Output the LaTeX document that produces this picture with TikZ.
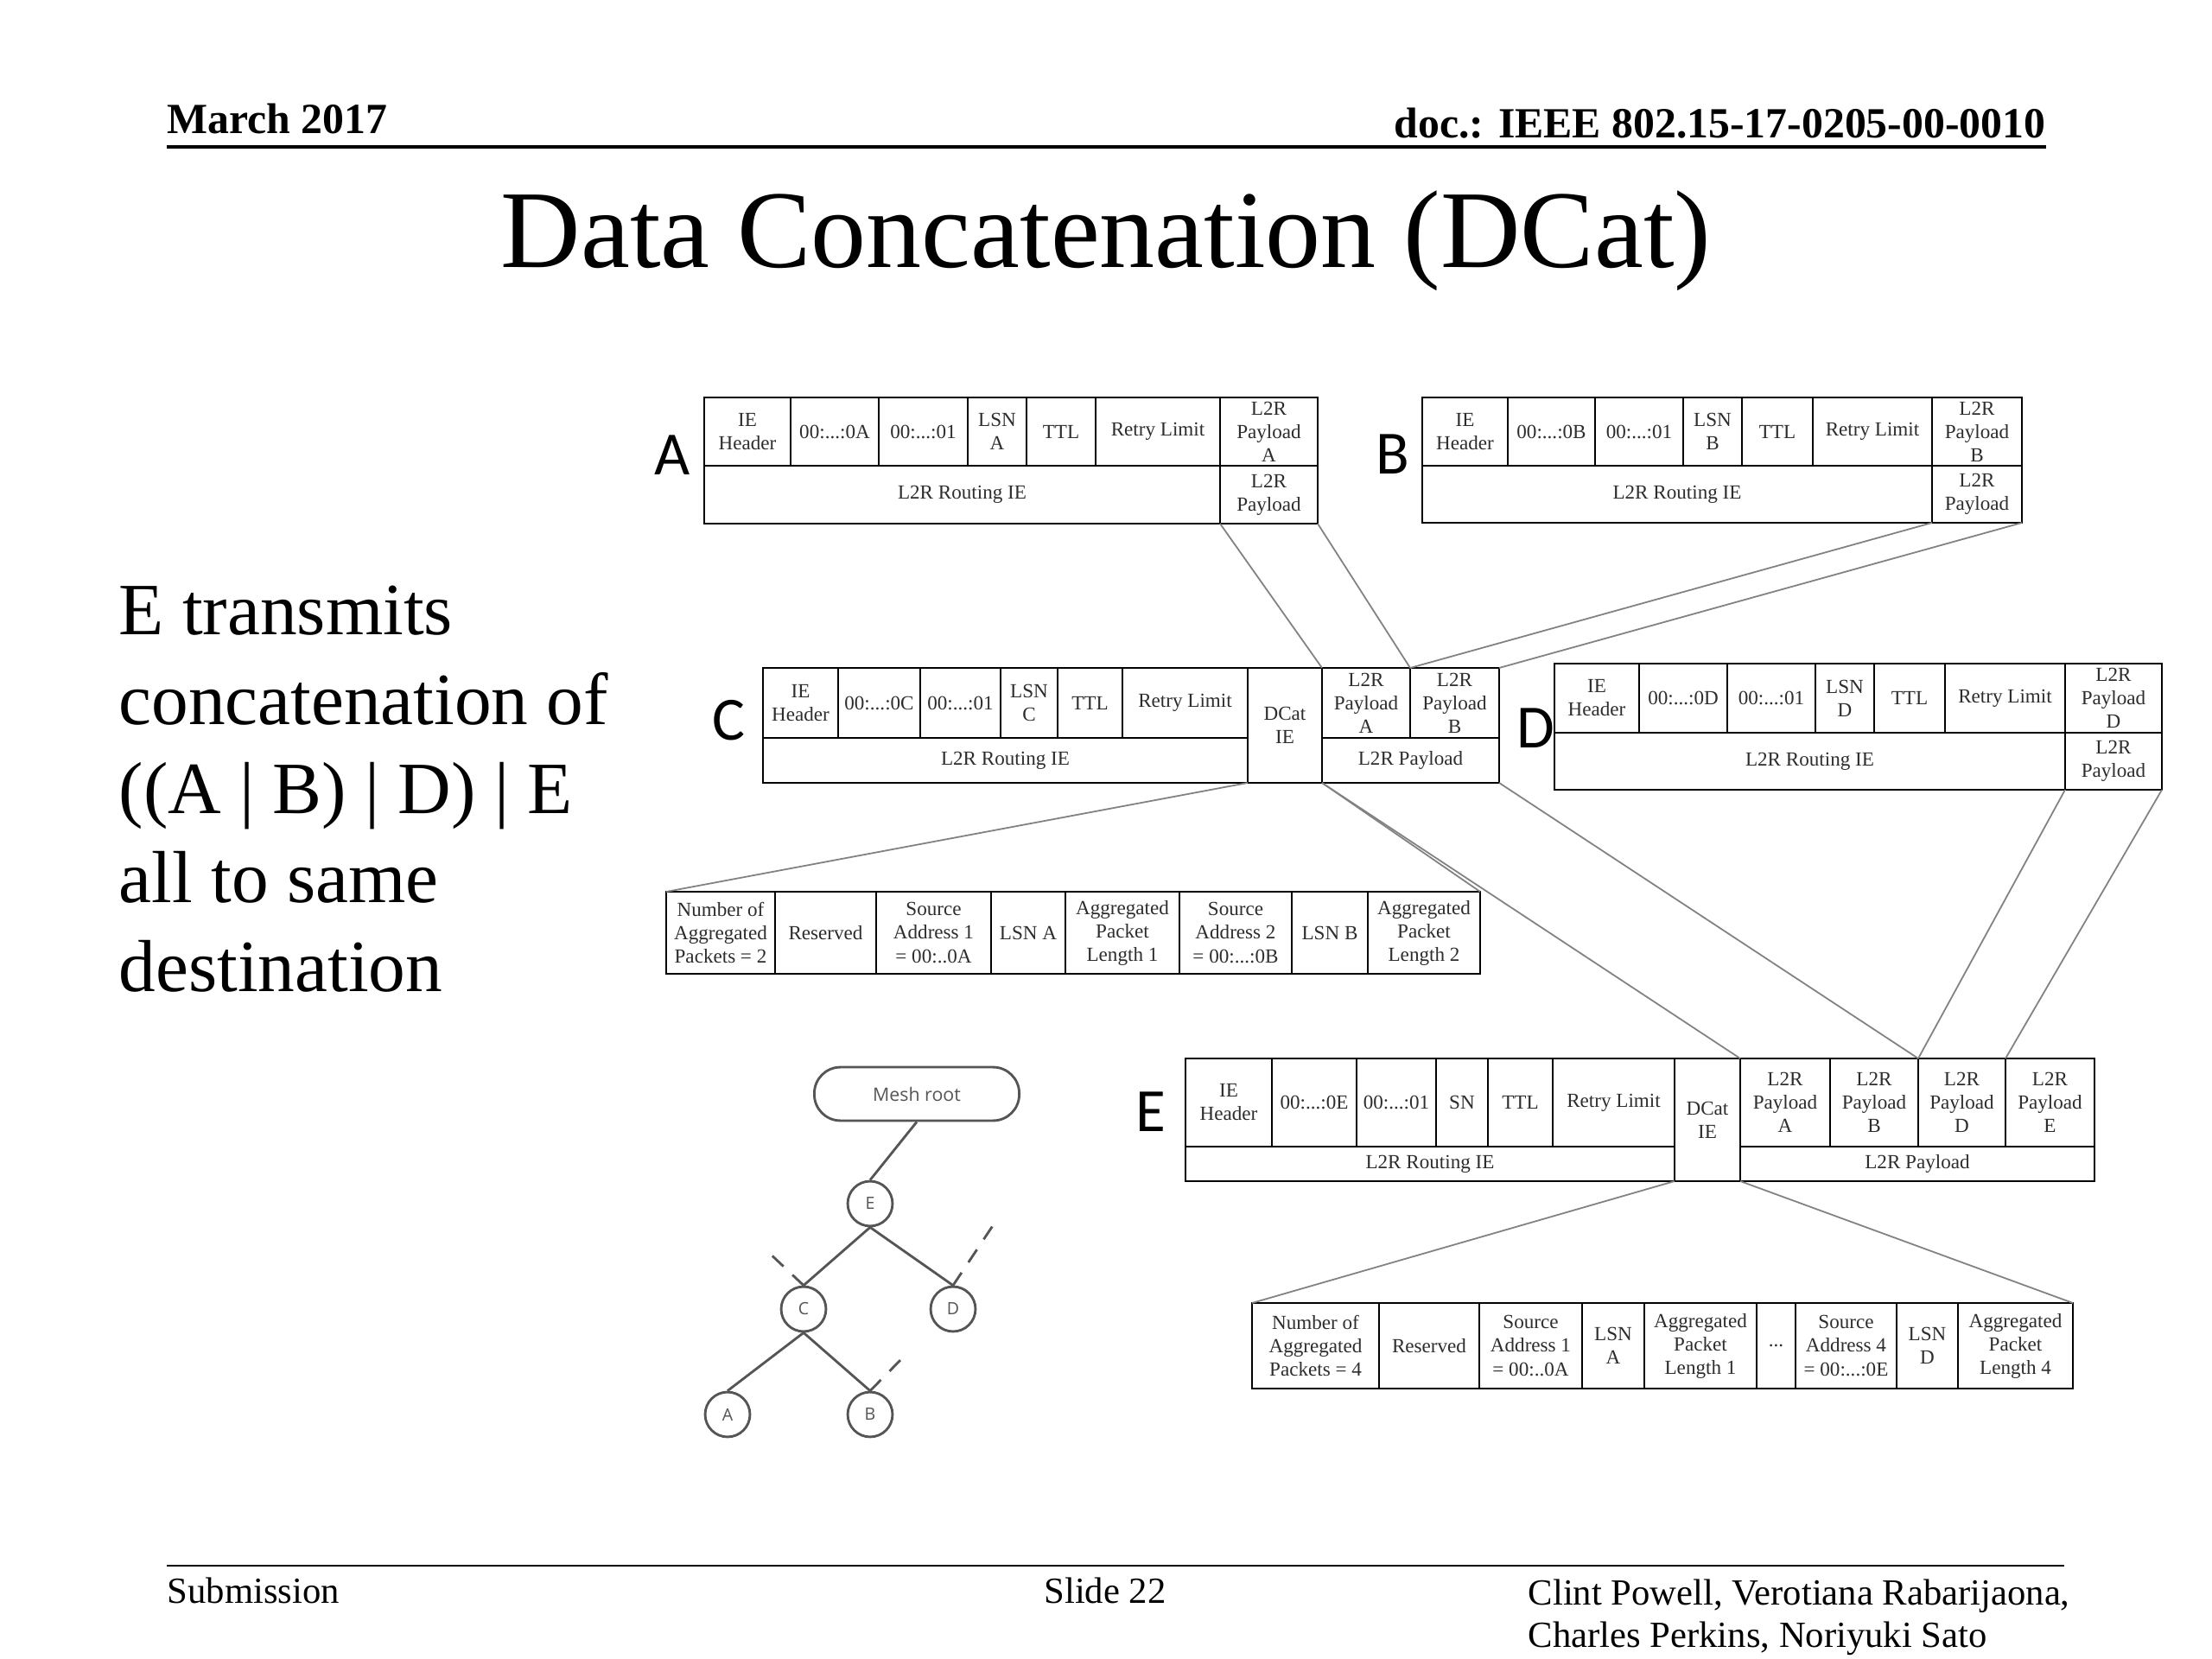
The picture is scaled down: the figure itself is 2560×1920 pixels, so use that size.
\documentclass[tikz,border=0pt]{standalone}
\usepackage{fontspec}
\setmainfont{Liberation Serif}
\newfontfamily\lblfont{Carlito}
\newfontfamily\treefont{Open Sans}
\definecolor{conn}{RGB}{130,130,130}
\definecolor{boxtext}{RGB}{45,45,45}
\definecolor{treeline}{RGB}{85,85,85}
\tikzset{
  fcellstyle/.style={draw=black, line width=0.75pt, fill=white, inner sep=0pt, outer sep=0pt,
    align=center, text=boxtext, font=\fontsize{6.5}{7.6}\selectfont},
  conline/.style={draw=conn, line width=0.5pt},
  bigletter/.style={font=\lblfont\fontsize{20}{24}\selectfont, inner sep=0pt},
  treenode/.style={circle, draw=treeline, line width=0.8pt, minimum size=14.6pt, inner sep=0pt,
    font=\treefont\fontsize{5.5}{6}\selectfont, text=treeline},
  rootnode/.style={rectangle, rounded corners=8.5pt, draw=treeline, line width=0.8pt,
    minimum width=66.7pt, minimum height=17.4pt, inner sep=0pt,
    font=\treefont\fontsize{6}{7}\selectfont, text=treeline},
  treeedge/.style={draw=treeline, line width=0.8pt},
  treedash/.style={treeedge, dash pattern=on 5pt off 4pt},
  hdr/.style={font=\bfseries\fontsize{14}{16}\selectfont, inner sep=0pt},
  ftr/.style={font=\fontsize{12}{14}\selectfont, inner sep=0pt},
  bodytxt/.style={font=\fontsize{24}{29}\selectfont, inner sep=0pt, anchor=base west},
}
% name, x1, y1, x2, y2, text   (pixel coordinates of the reference)
\newcommand\fcell[6]{%
  \pgfmathsetmacro\fcW{(#4-#2)*0.28125}%
  \pgfmathsetmacro\fcH{(#5-#3)*0.28125}%
  \node[fcellstyle, minimum width=\fcW pt, minimum height=\fcH pt] (#1) at ({(#2+#4)/2},{(#3+#5)/2}) {#6};}

\begin{document}
\begin{tikzpicture}[x=0.28125pt, y=-0.28125pt]
\fill[white] (0,0) rectangle (2560,1920);
\useasboundingbox (0,0) rectangle (2560,1920);

% header
\node[hdr, anchor=base west] (hdate) at (193,155) {March 2017};
\node[hdr, anchor=base east] (hdoc) at (2368,160) {doc.: IEEE 802.15-17-0205-00-0010};
\coordinate (hl1) at (193,170);
\coordinate (hl2) at (2368,170);
\draw[line width=1.1pt] (hl1) -- (hl2);

% title
\node[font=\fontsize{36}{40}\selectfont, inner sep=0pt, anchor=base] (title) at (1280,310) {Data Concatenation (DCat)};

% left text
\node[bodytxt] (l1) at (137,735) {E transmits};
\node[bodytxt] (l2) at (137,838) {concatenation of};
\node[bodytxt] (l3) at (137,941) {((A | B) | D) | E};
\node[bodytxt] (l4) at (137,1044) {all to same};
\node[bodytxt] (l5) at (137,1147) {destination};

% footer
\coordinate (fl1) at (193,1812);
\coordinate (fl2) at (2389,1812);
\draw[line width=0.8pt] (fl1) -- (fl2);
\node[ftr, anchor=base west] (fsub) at (193,1855) {Submission};
\node[ftr, anchor=base] (fslide) at (1279,1855) {Slide 22};
\node[ftr, anchor=base west] (fauth1) at (1768,1857) {Clint Powell, Verotiana Rabarijaona,};
\node[ftr, anchor=base west] (fauth2) at (1768,1906) {Charles Perkins, Noriyuki Sato};

% ---------- box A ----------
\node[bigletter] (labA) at (778,527) {A};
\fcell{a1}{815}{460}{915}{539}{IE\\Header}
\fcell{a2}{915}{460}{1017}{539}{00:...:0A}
\fcell{a3}{1017}{460}{1120}{539}{00:...:01}
\fcell{a4}{1120}{460}{1188}{539}{LSN\\A}
\fcell{a5}{1188}{460}{1268}{539}{TTL}
\fcell{a6}{1268}{460}{1412}{539}{Retry Limit}
\fcell{a7}{1412}{460}{1525}{539}{L2R\\Payload\\A}
\fcell{ar}{815}{539}{1412}{606}{L2R Routing IE}
\fcell{ap}{1412}{539}{1525}{606}{L2R\\Payload}

% ---------- box B ----------
\node[bigletter] (labB) at (1612,526) {B};
\fcell{b1}{1646}{460}{1745}{539}{IE\\Header}
\fcell{b2}{1745}{460}{1846}{539}{00:...:0B}
\fcell{b3}{1846}{460}{1948}{539}{00:...:01}
\fcell{b4}{1948}{460}{2016}{539}{LSN\\B}
\fcell{b5}{2016}{460}{2098}{539}{TTL}
\fcell{b6}{2098}{460}{2236}{539}{Retry Limit}
\fcell{b7}{2236}{460}{2340}{539}{L2R\\Payload\\B}
\fcell{br}{1646}{539}{2236}{605}{L2R Routing IE}
\fcell{bp}{2236}{539}{2340}{605}{L2R\\Payload}

% ---------- box C ----------
\node[bigletter] (labC) at (843,834) {C};
\fcell{c1}{883}{773}{970}{854}{IE\\Header}
\fcell{c2}{970}{773}{1065}{854}{00:...:0C}
\fcell{c3}{1065}{773}{1158}{854}{00:...:01}
\fcell{c4}{1158}{773}{1224}{854}{LSN\\C}
\fcell{c5}{1224}{773}{1299}{854}{TTL}
\fcell{c6}{1299}{773}{1444}{854}{Retry Limit}
\fcell{cd}{1444}{773}{1530}{906}{DCat\\IE}
\fcell{c7}{1530}{773}{1632}{854}{L2R\\Payload\\A}
\fcell{c8}{1632}{773}{1735}{854}{L2R\\Payload\\B}
\fcell{cr}{883}{854}{1444}{906}{L2R Routing IE}
\fcell{cp}{1530}{854}{1735}{906}{L2R Payload}

% ---------- box D ----------
\node[bigletter] (labD) at (1777,843) {D};
\fcell{d1}{1799}{768}{1897}{848}{IE\\Header}
\fcell{d2}{1897}{768}{1999}{848}{00:...:0D}
\fcell{d3}{1999}{768}{2101}{848}{00:...:01}
\fcell{d4}{2101}{768}{2169}{848}{LSN\\D}
\fcell{d5}{2169}{768}{2251}{848}{TTL}
\fcell{d6}{2251}{768}{2390}{848}{Retry Limit}
\fcell{d7}{2390}{768}{2502}{848}{L2R\\Payload\\D}
\fcell{dr}{1799}{848}{2390}{914}{L2R Routing IE}
\fcell{dp}{2390}{848}{2502}{914}{L2R\\Payload}

% ---------- DCat IE of C ----------
\fcell{f1}{771}{1032}{897}{1127}{Number of\\Aggregated\\Packets = 2}
\fcell{f2}{897}{1032}{1014}{1127}{Reserved}
\fcell{f3}{1014}{1032}{1147}{1127}{Source\\Address 1\\= 00:..0A}
\fcell{f4}{1147}{1032}{1233}{1127}{LSN A}
\fcell{f5}{1233}{1032}{1365}{1127}{Aggregated\\Packet\\Length 1}
\fcell{f6}{1365}{1032}{1495}{1127}{Source\\Address 2\\= 00:...:0B}
\fcell{f7}{1495}{1032}{1583}{1127}{LSN B}
\fcell{f8}{1583}{1032}{1713}{1127}{Aggregated\\Packet\\Length 2}

% ---------- box E ----------
\node[bigletter] (labE) at (1332,1287) {E};
\fcell{e1}{1372}{1225}{1472}{1327}{IE\\Header}
\fcell{e2}{1472}{1225}{1570}{1327}{00:...:0E}
\fcell{e3}{1570}{1225}{1662}{1327}{00:...:01}
\fcell{e4}{1662}{1225}{1722}{1327}{SN}
\fcell{e5}{1722}{1225}{1797}{1327}{TTL}
\fcell{e6}{1797}{1225}{1938}{1327}{Retry Limit}
\fcell{ed}{1938}{1225}{2014}{1367}{DCat\\IE}
\fcell{e7}{2014}{1225}{2118}{1327}{L2R\\Payload\\A}
\fcell{e8}{2118}{1225}{2220}{1327}{L2R\\Payload\\B}
\fcell{e9}{2220}{1225}{2321}{1327}{L2R\\Payload\\D}
\fcell{e10}{2321}{1225}{2424}{1327}{L2R\\Payload\\E}
\fcell{er}{1372}{1327}{1938}{1367}{L2R Routing IE}
\fcell{ep}{2014}{1327}{2424}{1367}{L2R Payload}

% ---------- DCat IE of E ----------
\fcell{g1}{1449}{1508}{1596}{1607}{Number of\\Aggregated\\Packets = 4}
\fcell{g2}{1596}{1508}{1712}{1607}{Reserved}
\fcell{g3}{1712}{1508}{1831}{1607}{Source\\Address 1\\= 00:..0A}
\fcell{g4}{1831}{1508}{1903}{1607}{LSN\\A}
\fcell{g5}{1903}{1508}{2033}{1607}{Aggregated\\Packet\\Length 1}
\fcell{g6}{2033}{1508}{2078}{1607}{...}
\fcell{g7}{2078}{1508}{2195}{1607}{Source\\Address 4\\= 00:...:0E}
\fcell{g8}{2195}{1508}{2266}{1607}{LSN\\D}
\fcell{g9}{2266}{1508}{2399}{1607}{Aggregated\\Packet\\Length 4}

% ---------- connectors ----------
\draw[conline] (ap.south west) -- (c7.north west);
\draw[conline] (ap.south east) -- (c7.north east);
\draw[conline] (bp.south west) -- (c8.north west);
\draw[conline] (bp.south east) -- (c8.north east);
\draw[conline] (cd.south west) -- (f1.north west);
\draw[conline] (cd.south east) -- (f8.north east);
\draw[conline] (cp.south west) -- (e7.north west);
\draw[conline] (cp.south east) -- (e8.north east);
\draw[conline] (dp.south west) -- (e9.north west);
\draw[conline] (dp.south east) -- (e9.north east);
\draw[conline] (ed.south west) -- (g1.north west);
\draw[conline] (ed.south east) -- (g9.north east);

% ---------- mesh tree ----------
\node[rootnode] (troot) at (1061,1266) {Mesh root};
\node[treenode] (tE) at (1007,1393) {E};
\node[treenode] (tC) at (930,1515) {C};
\node[treenode] (tD) at (1103,1515) {D};
\node[treenode] (tA) at (842,1637) {A};
\node[treenode] (tB) at (1007,1637) {B};
\coordinate (dC) at (887,1447);
\coordinate (dD) at (1150,1417);
\coordinate (dB) at (1048,1568);
\draw[treeedge] (troot.south) -- (tE.north);
\draw[treeedge] (tE.south) -- (tC.north);
\draw[treeedge] (tE.south) -- (tD.north);
\draw[treeedge] (tC.south) -- (tA.north);
\draw[treeedge] (tC.south) -- (tB.north);
\draw[treedash] (tC.north) -- (dC);
\draw[treedash] (tD.north) -- (dD);
\draw[treedash] (tB.north) -- (dB);
\end{tikzpicture}
\end{document}
